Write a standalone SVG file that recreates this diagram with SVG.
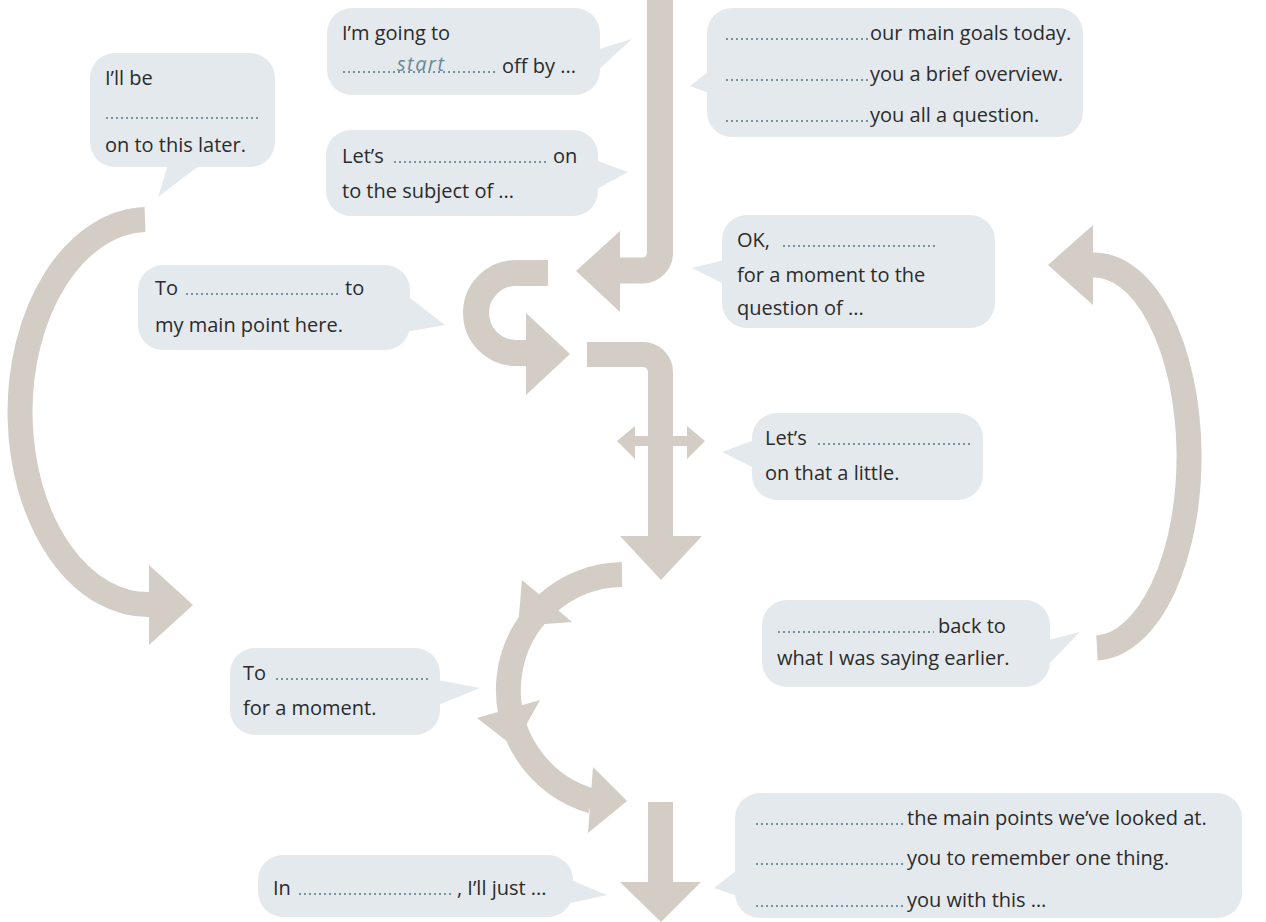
<svg xmlns="http://www.w3.org/2000/svg" width="1266" height="922" viewBox="0 0 1266 922">
<style>
.bub{fill:#e4e9ed}
.t{font-family:"Open Sans","Noto Sans","DejaVu Sans",sans-serif;font-size:20px;fill:#2b2b2b}
.hw{font-family:"Open Sans","DejaVu Sans",sans-serif;font-style:italic;font-size:20px;fill:#6b8894;letter-spacing:1.5px}
.dots{stroke:#7a929e;stroke-width:2;stroke-dasharray:2 3;fill:none}
.band{fill:none;stroke:#d3cdc6}
.head{fill:#d3cdc6}
</style>
<rect width="1266" height="922" fill="#ffffff"/>

<g id="connectors">
  <path class="band" stroke-width="26" d="M660,0 V253 A17.5,17.5 0 0 1 642.5,270.5 H618"/>
  <polygon class="head" points="620,231 576,271 620,312"/>
  <path class="band" stroke-width="26" d="M548,273 H516 A40,40 0 0 0 516,353 H528"/>
  <polygon class="head" points="526,313 570,354 526,395"/>
  <path class="band" stroke-width="25" d="M587,354.5 H643 A17.5,17.5 0 0 1 660.5,372 V538"/>
  <polygon class="head" points="620,536 661,580 702,536"/>
  <rect class="head" x="633" y="436" width="56" height="10"/>
  <polygon class="head" points="635,426 617,441 635,459"/>
  <polygon class="head" points="687,426 705,441 687,459"/>
  <path class="band" stroke-width="25" d="M145,219.5 A128,192.5 0 0 0 151,604.5"/>
  <polygon class="head" points="149,565 193,605 149,645"/>
  <path class="band" stroke-width="25" d="M1097,648 A95,191.5 0 0 0 1091,265"/>
  <polygon class="head" points="1093,225 1048,265 1093,305"/>
  <path class="band" stroke-width="25" d="M622,574.5 A115.5,115.5 0 0 0 592,801"/>
  <polygon class="head" points="522,580 518,626 572,622"/>
  <polygon class="head" points="477,718 514,747 540,700"/>
  <polygon class="head" points="593,767 627,801 588,833"/>
  <rect class="head" x="648" y="802" width="25" height="82"/>
  <polygon class="head" points="620,882 661,922 701,882"/>
</g>

<g id="b1">
  <rect class="bub" x="327" y="8" width="273" height="87" rx="25"/>
  <polygon class="bub" points="596,50 632,39 596,72"/>
  <text class="t" x="342" y="40">I’m going to</text>
  <line class="dots" x1="343" y1="72" x2="498" y2="72"/>
  <text class="hw" x="397" y="71">start</text>
  <text class="t" x="502" y="73">off by ...</text>
</g>

<g id="b2">
  <rect class="bub" x="326" y="130" width="272" height="86" rx="25"/>
  <polygon class="bub" points="595,160 628,172 595,190"/>
  <text class="t" x="342" y="163">Let’s</text>
  <line class="dots" x1="394" y1="162" x2="549" y2="162"/>
  <text class="t" x="553" y="163">on</text>
  <text class="t" x="342" y="198">to the subject of ...</text>
</g>

<g id="b3">
  <rect class="bub" x="707" y="8" width="376" height="129" rx="25"/>
  <polygon class="bub" points="709,71 690,86 709,93"/>
  <line class="dots" x1="726" y1="39" x2="868" y2="39"/>
  <text class="t" x="870" y="40">our main goals today.</text>
  <line class="dots" x1="726" y1="80" x2="868" y2="80"/>
  <text class="t" x="870" y="81">you a brief overview.</text>
  <line class="dots" x1="726" y1="121" x2="868" y2="121"/>
  <text class="t" x="870" y="122">you all a question.</text>
</g>

<g id="b4">
  <rect class="bub" x="90" y="53" width="185" height="114" rx="25"/>
  <polygon class="bub" points="168,165 158,197 200,165"/>
  <text class="t" x="105" y="85">I’ll be</text>
  <line class="dots" x1="106" y1="118" x2="261" y2="118"/>
  <text class="t" x="105" y="152">on to this later.</text>
</g>

<g id="b5">
  <rect class="bub" x="138" y="265" width="272" height="85" rx="25"/>
  <polygon class="bub" points="406,295 445,325 406,332"/>
  <text class="t" x="155" y="295">To</text>
  <line class="dots" x1="186" y1="294" x2="341" y2="294"/>
  <text class="t" x="345" y="295">to</text>
  <text class="t" x="155" y="332">my main point here.</text>
</g>

<g id="b6">
  <rect class="bub" x="722" y="215" width="273" height="113" rx="25"/>
  <polygon class="bub" points="724,260 692,268 724,284"/>
  <text class="t" x="737" y="247">OK,</text>
  <line class="dots" x1="783" y1="246" x2="936" y2="246"/>
  <text class="t" x="737" y="282">for a moment to the</text>
  <text class="t" x="737" y="315">question of ...</text>
</g>

<g id="b7">
  <rect class="bub" x="752" y="413" width="231" height="87" rx="25"/>
  <polygon class="bub" points="754,440 722,452 754,468"/>
  <text class="t" x="765" y="445">Let’s</text>
  <line class="dots" x1="818" y1="444" x2="973" y2="444"/>
  <text class="t" x="765" y="480">on that a little.</text>
</g>

<g id="b8">
  <rect class="bub" x="762" y="600" width="288" height="87" rx="25"/>
  <polygon class="bub" points="1048,640 1080,632 1048,665"/>
  <line class="dots" x1="778" y1="632" x2="934" y2="632"/>
  <text class="t" x="938" y="633">back to</text>
  <text class="t" x="777" y="665">what I was saying earlier.</text>
</g>

<g id="b9">
  <rect class="bub" x="230" y="648" width="210" height="87" rx="25"/>
  <polygon class="bub" points="438,680 480,688 438,705"/>
  <text class="t" x="243" y="680">To</text>
  <line class="dots" x1="276" y1="679" x2="431" y2="679"/>
  <text class="t" x="243" y="715">for a moment.</text>
</g>

<g id="b10">
  <rect class="bub" x="258" y="855" width="315" height="62" rx="25"/>
  <polygon class="bub" points="571,880 607,895 571,903"/>
  <text class="t" x="273" y="895">In</text>
  <line class="dots" x1="299" y1="894" x2="454" y2="894"/>
  <text class="t" x="457" y="895">, I’ll just ...</text>
</g>

<g id="b11">
  <rect class="bub" x="735" y="793" width="507" height="125" rx="25"/>
  <polygon class="bub" points="737,870 714,888 737,896"/>
  <line class="dots" x1="756" y1="824" x2="903" y2="824"/>
  <text class="t" x="907" y="825">the main points we’ve looked at.</text>
  <line class="dots" x1="756" y1="864" x2="903" y2="864"/>
  <text class="t" x="907" y="865">you to remember one thing.</text>
  <line class="dots" x1="756" y1="906" x2="903" y2="906"/>
  <text class="t" x="907" y="907">you with this …</text>
</g>
</svg>
